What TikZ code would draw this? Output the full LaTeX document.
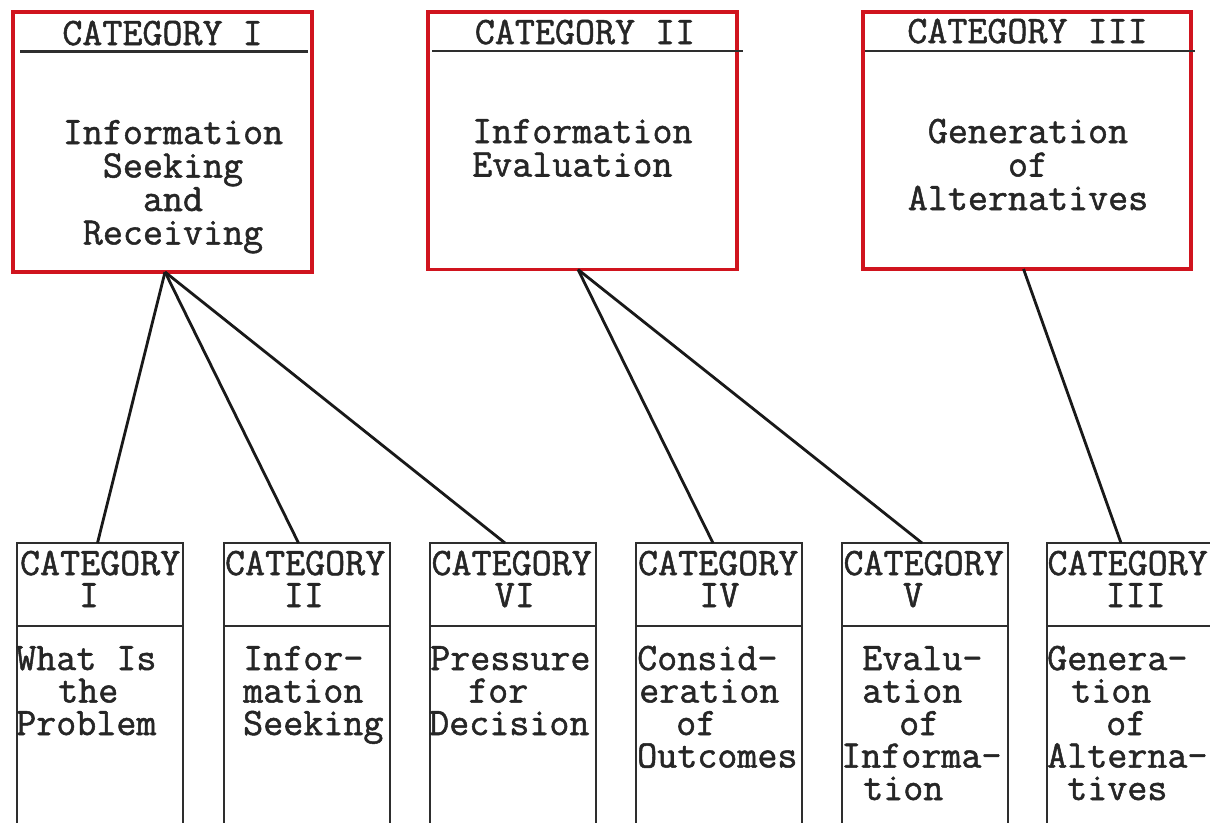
\documentclass[tikz,border=0pt]{standalone}
\usepackage{fontspec}
\newfontfamily\typefam{Latin Modern Mono}[RawFeature={embolden=1.3}]
\definecolor{boxred}{HTML}{D0141E}
\definecolor{ink}{HTML}{262626}
\definecolor{rule}{HTML}{2E2E2E}
\newcommand{\typew}{\typefam\fontsize{38.9pt}{33.5pt}\selectfont\lineskiplimit=-40pt\relax}
\newcommand{\typeb}{\typefam\fontsize{38.9pt}{32.5pt}\selectfont\lineskiplimit=-40pt\relax}
\newcommand{\typeh}{\typefam\fontsize{38.9pt}{32pt}\selectfont\lineskiplimit=-40pt\relax}
\begin{document}
\begin{tikzpicture}[x=1pt,y=-1pt,
  topbox/.style={draw=boxred,line width=3.2pt,rectangle,anchor=north west,inner sep=0pt,outer sep=0pt},
  botbox/.style={draw=rule,line width=2.6pt,rectangle,anchor=north west,inner sep=0pt,outer sep=0pt,minimum width=166pt,minimum height=282pt},
  hline/.style={draw=rule,line width=2.6pt},
  conn/.style={draw=black!90,line width=2.8pt},
  txt/.style={inner sep=0pt,text=ink},
  hdr/.style={txt,font=\typew,anchor=base},
  ctxt/.style={txt,font=\typew,anchor=base,align=center},
  ltxt/.style={txt,font=\typew,anchor=base west,align=left},
  bhdr/.style={txt,font=\typeh,anchor=base west,align=left},
  btxt/.style={txt,font=\typeb,anchor=base west,align=left}]
\useasboundingbox (0,0) rectangle (1210,822);
\clip (0,0) rectangle (1210,822);
\fill[white] (0,0) rectangle (1210,822);

% top boxes
\node[topbox,minimum width=299pt,minimum height=260pt] (t1) at (13,12) {};
\node[topbox,minimum width=309pt,minimum height=257.5pt] (t2) at (428,12) {};
\node[topbox,minimum width=328pt,minimum height=257pt] (t3) at (863,12) {};
\draw[hline] (20,51.5) -- (308,51.5);
\draw[hline] (432,51) -- (743,51);
\draw[hline] (865,51) -- (1195,51);

\node[hdr] (t1h) at (162.5,45) {CATEGORY I};
\node[hdr] (t2h) at (585,44) {CATEGORY II};
\node[hdr] (t3h) at (1027.5,43) {CATEGORY III};

% multi-line nodes: base anchor = baseline of the last line
\node[ctxt] (t1t) at (173,244.5) {Information\\Seeking\\and\\Receiving};
\node[ltxt] (t2t) at (472,176.5) {Information\\Evaluation};
\node[ctxt] (t3t) at (1028,210) {Generation\\of\\Alternatives};

% bottom boxes
\node[botbox] (b1) at (17,543) {};
\node[botbox] (b2) at (224,543) {};
\node[botbox] (b3) at (430,543) {};
\node[botbox] (b4) at (636,543) {};
\node[botbox] (b5) at (842,543) {};
\node[botbox] (b6) at (1047,543) {};
\foreach \b in {b1,b2,b3,b4,b5,b6}{
  \draw[hline] (\b.west |- 0,626) -- (\b.east |- 0,626);
}

\node[bhdr] (b1h) at (19.8,607) {CATEGORY\\\hspace*{59pt}I};
\node[bhdr] (b2h) at (224.8,607) {CATEGORY\\\hspace*{58.8pt}II};
\node[bhdr] (b3h) at (431.3,607) {CATEGORY\\\hspace*{63.3pt}VI};
\node[bhdr] (b4h) at (637.8,607) {CATEGORY\\\hspace*{61.3pt}IV};
\node[bhdr] (b5h) at (843.3,607) {CATEGORY\\\hspace*{59.5pt}V};
\node[bhdr] (b6h) at (1047.3,607) {CATEGORY\\\hspace*{58.1pt}III};

\node[btxt] (b1t) at (16,735) {What Is\\\hspace*{42pt}the\\Problem};
\node[btxt] (b2t) at (243,735) {Infor-\\mation\\Seeking};
\node[btxt] (b3t) at (429,735) {\hspace*{1pt}Pressure\\\hspace*{39pt}for\\Decision};
\node[btxt] (b4t) at (637,767.5) {Consid-\\\hspace*{2pt}eration\\\hspace*{39pt}of\\Outcomes};
\node[btxt] (b5t) at (841,800) {\hspace*{21pt}Evalu-\\\hspace*{21pt}ation\\\hspace*{58pt}of\\Informa-\\\hspace*{22pt}tion};
\node[btxt] (b6t) at (1047,800) {Genera-\\\hspace*{24pt}tion\\\hspace*{59pt}of\\Alterna-\\\hspace*{20pt}tives};

% connectors
\draw[conn] ([xshift=2.5pt]t1.south) -- ([xshift=-2.5pt]b1.north);
\draw[conn] ([xshift=2.5pt]t1.south) -- ([xshift=-8.5pt]b2.north);
\draw[conn] ([xshift=2.5pt]t1.south) -- ([xshift=-8pt]b3.north);
\draw[conn] ([xshift=-4.5pt]t2.south) -- ([xshift=-6pt]b4.north);
\draw[conn] ([xshift=-4.5pt]t2.south) -- ([xshift=-3pt]b5.north);
\draw[conn] ([xshift=-3.5pt]t3.south) -- ([xshift=-9pt]b6.north);
\end{tikzpicture}
\end{document}
